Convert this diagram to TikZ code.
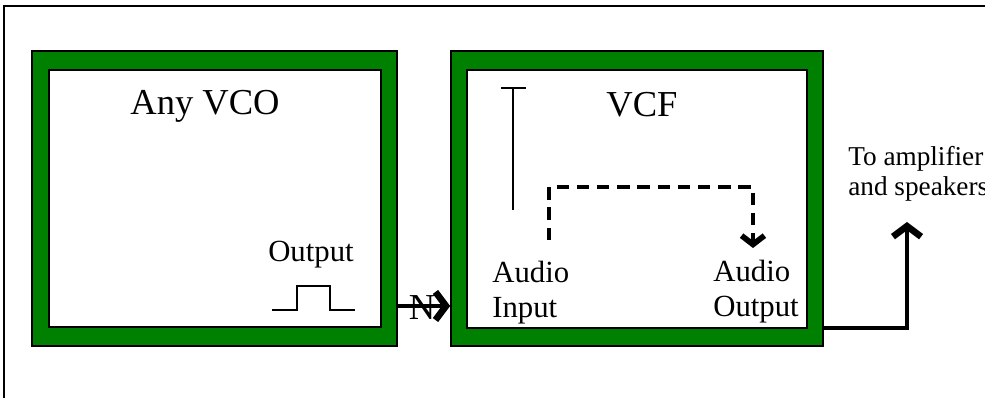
\documentclass[tikz,border=0pt]{standalone}
\usepackage{fontspec}
\setmainfont{Liberation Serif}
\usepackage{tikz}
\usetikzlibrary{arrows.meta}
\definecolor{panelgreen}{HTML}{008000}

\begin{document}
\begin{tikzpicture}[x=0.02cm,y=-0.02cm,
  greenbox/.style={draw,line width=1pt,fill=panelgreen,inner sep=0pt,minimum height=5.9cm},
  whitebox/.style={draw,line width=1pt,fill=white,inner sep=0pt},
  title/.style={font=\fontsize{20.8}{24}\selectfont,inner sep=0pt},
  txt/.style={font=\fontsize{17.5}{20}\selectfont,inner sep=0pt,align=left},
  bigarrow/.style={line width=2.6pt,-{Straight Barb[length=6pt,width=16pt,line width=0pt 1.45]}}]
  \useasboundingbox (0,0) rectangle (985,398);
  \draw[line width=1.1pt] (4,398) -- (4,6) -- (985,6);

  % the two modules
  \node[greenbox,minimum width=7.3cm] (vco) at (214.5,198.5) {};
  \node[whitebox,minimum width=6.64cm,minimum height=5.14cm] (vcoin) at (215,198.5) {};
  \node[greenbox,minimum width=7.44cm] (vcf) at (637,198.5) {};
  \node[whitebox,minimum width=6.8cm,minimum height=5.16cm] (vcfin) at (637,199) {};

  \node[title,anchor=base] (vconame) at (205,115) {Any VCO};
  \node[title,anchor=base] (vcfname) at (642,117) {VCF};

  % VCO output
  \node[txt,anchor=base] (outlbl) at (311,262) {Output};
  \draw[line width=0.9pt] (272,310) -- (297,310) -- (297,286) -- (330,286) -- (330,310) -- (355,310);
  \node[title,anchor=base] (nmark) at (422,320) {N};
  \draw[bigarrow] ([yshift=-2.15cm]vco.east) -- ([yshift=-2.15cm]vcf.west);

  % VCF inside
  \draw[line width=0.8pt] (501,88) -- (526,88) (513,88) -- (513,210);
  \node[txt,anchor=base west] (ain) at (492,318) {Audio\\Input};
  \node[txt,anchor=base west] (aout) at (713,317) {Audio\\Output};
  \coordinate (fromin) at (549,240);
  \coordinate (toout) at (753,248);
  \draw[line width=2.3pt,dash pattern=on 7pt off 4.5pt,-{Straight Barb[length=5pt,width=13pt,line width=0pt 1.4]}]
    (fromin) -- ++(0,-53) -| (toout);

  % to the amplifier
  \coordinate (speaker) at (907,222);
  \draw[bigarrow] ([yshift=-2.59cm]vcf.east) -| (speaker);
  \node[font=\fontsize{15.5}{17.6}\selectfont,inner sep=0pt,align=left,anchor=base west] (amp) at (848,196) {To amplifier\\and speakers};
\end{tikzpicture}
\end{document}
